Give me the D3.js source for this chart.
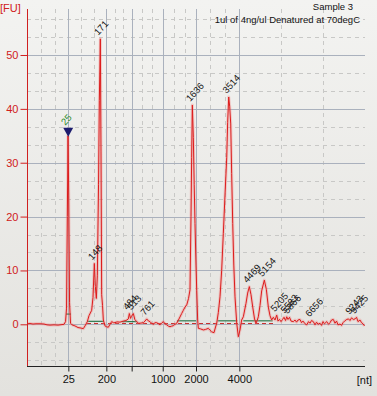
<!DOCTYPE html>
<html>
<head>
<meta charset="utf-8">
<script src="https://cdn.jsdelivr.net/npm/d3@7"></script>
<style>
  html, body { margin: 0; padding: 0; background: #ecebe8; }
  svg { display: block; }
</style>
</head>
<body>
<div id="outer"></div>
<script>
////////// Data (migration time in s, fluorescence in FU) //////////
const traceTime = [
  18.58, 18.95, 19.4, 19.85, 20.45, 21.05, 21.5, 21.95, 22.55, 23.15, 23.75, 24.05, 24.28, 24.43, 24.55, 24.65,
  24.76, 24.88, 25.03, 25.25, 25.7, 26.15, 26.6, 26.95, 27.2, 27.55, 27.8, 28.2, 28.4, 28.6, 28.75, 28.9,
  29.05, 29.23, 29.35, 29.5, 29.6, 29.7, 29.83, 29.95, 30.2, 30.43, 30.7, 30.95, 31.2, 31.48, 31.7, 32.0,
  32.45, 32.95, 33.35, 33.7, 33.85, 34.03, 34.18, 34.45, 34.67, 34.96, 35.23, 35.45, 35.95, 36.2, 36.46, 36.73,
  36.95, 37.18, 37.45, 37.7, 37.96, 38.23, 38.45, 38.68, 38.95, 39.2, 39.46, 39.73, 39.95, 40.18, 40.45, 40.7,
  40.96, 41.3, 41.7, 41.95, 42.2, 42.46, 42.73, 42.95, 43.1, 43.2, 43.3, 43.45, 43.58, 43.7, 43.85, 43.96,
  44.1, 44.2, 44.53, 44.95, 45.28, 45.7, 45.95, 46.2, 46.55, 46.78, 46.96, 47.2, 47.45, 47.7, 47.95, 48.2,
  48.46, 48.6, 48.76, 48.9, 49.06, 49.2, 49.36, 49.52, 49.7, 49.96, 50.2, 50.45, 50.7, 50.95, 51.35, 51.6,
  51.85, 52.1, 52.36, 52.63, 52.85, 53.05, 53.2, 53.45, 53.7, 54.1, 54.4, 54.7, 54.95, 55.2, 55.45, 55.7,
  55.96, 56.15, 56.38, 56.6, 56.83, 57.05, 57.28, 57.46, 57.65, 57.88, 58.1, 58.45, 58.7, 58.93, 59.15, 59.45,
  59.68, 59.9, 60.2, 60.46, 60.73, 60.95, 61.18, 61.45, 61.7, 61.93, 62.15, 62.45, 62.68, 62.9, 63.13, 63.46,
  63.73, 63.95, 64.18, 64.45, 64.7, 64.93, 65.15, 65.45, 65.68, 65.9, 66.13, 66.46, 66.73, 66.95, 67.18, 67.45,
  67.7, 67.93, 68.15, 68.45, 68.68, 68.9, 69.13
];
const traceFU = [
  0.1, 0.15, 0.05, 0.1, 0.1, 0.05, -0.1, -0.15, -0.1, -0.15, -0.05, 0.0, 0.5, 3, 20, 35.0,
  24, 4, 0.2, -0.1, -0.3, -0.6, -0.7, -0.8, -0.3, 0.5, 1.6, 2.6, 5, 11.3, 7, 4.8,
  9, 26, 41.5, 53.0, 32, 5.5, 3.5, 0.8, -0.3, -0.45, -0.55, 0, 0.5, 0.3, 0.3, 0.45,
  0.4, 0.6, 0.7, 1.0, 2.0, 1.1, 1.5, 2.0, 0.9, 0.5, 0.2, 0.2, 0.3, 0.6, 1.0, 0.6,
  0.5, 0.2, 0.0, 0.3, 0.3, 0.1, -0.1, 0.2, 0.5, 0.1, -0.1, -0.35, -0.45, -0.35, -0.25, 0.0,
  0.2, 1.0, 2.0, 2.6, 3.2, 3.6, 4.8, 6.4, 20, 31, 40.7, 34.7, 26, 18.7, 11, 6.3,
  0.8, -0.75, -0.85, -1.05, -0.95, -0.75, -1.1, -1.4, -1.55, -0.5, 0.2, 2.2, 5.1, 10, 16.9, 24,
  31, 37.5, 42.2, 40.5, 37.2, 28, 18.7, 11, 5.1, 0.2, -2.3, -1.05, 0.8, 1.4, 3.9, 5.8,
  7.0, 5.5, 3.2, 1.0, 0.2, 0.8, 1.4, 3.5, 6.2, 8.2, 6.5, 3.2, 1.6, 0.8, 1.3, 0.8,
  1.7, 0.6, 0.9, 0.5, 0.9, 1.3, 0.7, 1.4, 0.9, 1.3, 0.6, 0.5, 0.8, 0.4, 0.8, 0.9,
  0.3, 0.6, 0.1, -0.1, 0.5, 0.2, 0.7, 0.5, -0.1, 0.4, 0.0, 0.2, -0.2, 0.5, 0.1, 0.5,
  0.0, 0.3, 0.8, 0.9, 0.2, 0.6, -0.1, 0.05, -0.2, 0.3, 0.6, 0.9, 1.0, 0.7, 1.2, 0.9,
  1.0, 1.3, 0.5, 0.8, 0.3, 0.1, -0.3
];

// ladder (x axis) in nt, placed at their migration times
const ladderTime = [24.70, 30.40, 34.20, 38.86, 43.85, 50.35];
const ladderLabel = ['25', '200', '', '1000', '2000', '4000'];

const yTicks = [0, 10, 20, 30, 40, 50];

// called peaks
const peakLabel = ['148', '171', '484', '513', '761', '1636', '3514', '4469', '5154', '5205', '5583', '5866', '6656', '9243', '9425'];
const peakTime  = [28.6, 29.5, 33.85, 34.45, 36.46, 43.3, 48.76, 51.85, 54.1, 55.96, 57.46, 57.88, 61.18, 67.18, 67.93];
const peakFU    = [11.3, 53.0, 2.0, 2.0, 1.0, 40.7, 42.2, 7.0, 8.2, 1.7, 1.4, 1.3, 0.7, 1.2, 1.3];

// lower marker
const markerLabel = '25';
const markerTime = 24.68;
const markerFU = 35.0;

// integration baselines
const baseStart = [24.35, 27.5, 32.75, 41.0, 47.1, 50.95];
const baseEnd   = [25.1, 30.05, 35.0, 43.85, 50.05, 55.35];
const baseFU    = [1.9, 0.55, 0.5, 0.65, 0.65, 0.65];
const dashBaseStart = 27.5, dashBaseEnd = 55.4, dashBaseFU = 0.15;

const title1 = 'Sample 3';
const title2 = '1ul of 4ng/ul Denatured at 70degC';

////////// Layout //////////
const W = 377, H = 396;
const plotL = 27, plotR = 365, plotT = 9, plotB = 366;
const tDomain = [18.5, 69.2];
const fuDomain = [-7.74, 58.54];

const x = d3.scaleLinear().domain(tDomain).range([plotL, plotR]);
const y = d3.scaleLinear().domain(fuDomain).range([plotB, plotT]);

const svg = d3.select('#outer').append('svg')
  .attr('width', W).attr('height', H)
  .style('font-family', '"Liberation Sans", Arial, sans-serif');

const defs = svg.append('defs');
const grad = defs.append('linearGradient').attr('id', 'bg').attr('x1', 0).attr('x2', 0).attr('y1', 0).attr('y2', 1);
grad.append('stop').attr('offset', '0%').attr('stop-color', '#f3f3f1');
grad.append('stop').attr('offset', '100%').attr('stop-color', '#e3e2de');
defs.append('clipPath').attr('id', 'plotClip').append('rect')
  .attr('x', plotL).attr('y', plotT).attr('width', plotR - plotL).attr('height', plotB - plotT);

svg.append('rect').attr('width', W).attr('height', H).attr('fill', 'url(#bg)');

// grid
const grid = svg.append('g').attr('class', 'grid');
const minorY = d3.range(-2, 18).filter(k => k % 3 !== 0).map(k => k * 10 / 3);
grid.selectAll('line.my').data(minorY).join('line')
  .attr('x1', plotL).attr('x2', plotR)
  .attr('y1', d => Math.round(y(d)) + 0.5).attr('y2', d => Math.round(y(d)) + 0.5)
  .attr('stroke', '#c8c8c6').attr('stroke-dasharray', '4,4');

const bounds = [tDomain[0], ...ladderTime, tDomain[1]];
const minorX = [];
for (let i = 0; i < bounds.length - 1; i++) {
  const a = bounds[i], b = bounds[i + 1];
  minorX.push(a + (b - a) / 3, a + 2 * (b - a) / 3);
}
grid.selectAll('line.mx').data(minorX).join('line')
  .attr('y1', plotT).attr('y2', plotB)
  .attr('x1', d => Math.round(x(d)) + 0.5).attr('x2', d => Math.round(x(d)) + 0.5)
  .attr('stroke', '#c8c8c6').attr('stroke-dasharray', '4,4');

grid.selectAll('line.gy').data(yTicks).join('line')
  .attr('x1', plotL).attr('x2', plotR)
  .attr('y1', d => Math.round(y(d)) + 0.5).attr('y2', d => Math.round(y(d)) + 0.5)
  .attr('stroke', '#aab1bd');

grid.selectAll('line.gx').data(ladderTime).join('line')
  .attr('y1', plotT).attr('y2', plotB)
  .attr('x1', d => Math.round(x(d)) + 0.5).attr('x2', d => Math.round(x(d)) + 0.5)
  .attr('stroke', '#aab1bd');

// baselines
const plotG = svg.append('g').attr('clip-path', 'url(#plotClip)');
plotG.append('line')
  .attr('x1', x(dashBaseStart)).attr('x2', x(dashBaseEnd))
  .attr('y1', y(dashBaseFU)).attr('y2', y(dashBaseFU))
  .attr('stroke', '#c83030').attr('stroke-dasharray', '4,3');
plotG.selectAll('line.base').data(baseStart).join('line')
  .attr('x1', d => x(d)).attr('x2', (d, i) => x(baseEnd[i]))
  .attr('y1', (d, i) => y(baseFU[i])).attr('y2', (d, i) => y(baseFU[i]))
  .attr('stroke', '#2f7a50').attr('stroke-width', 1.2);

// trace: pale halo under a thin red line
const pts = traceTime.map((t, i) => [t, traceFU[i]]);
const line = d3.line().x(d => x(d[0])).y(d => y(d[1]));
plotG.append('path').attr('d', line(pts))
  .attr('fill', 'none').attr('stroke', '#f08080').attr('stroke-opacity', 0.35)
  .attr('stroke-width', 3).attr('stroke-linejoin', 'round');
plotG.append('path').attr('d', line(pts))
  .attr('fill', 'none').attr('stroke', '#dd1c1c').attr('stroke-width', 1)
  .attr('stroke-linejoin', 'round');

// peak labels
svg.selectAll('text.peak').data(peakLabel).join('text')
  .attr('transform', (d, i) => `translate(${x(peakTime[i]) - 2},${y(peakFU[i]) - 3}) rotate(-48)`)
  .attr('font-size', 9.5).attr('fill', '#111')
  .text(d => d);

// marker
const mx = x(markerTime), my = y(markerFU);
svg.append('path')
  .attr('d', `M${mx - 5},${my - 8} L${mx + 5},${my - 8} L${mx},${my + 1} Z`)
  .attr('fill', '#1c1c6e');
svg.append('text')
  .attr('transform', `translate(${mx - 3},${my - 10}) rotate(-48)`)
  .attr('font-size', 9.5).attr('fill', '#2a8a2a')
  .text(markerLabel);

// axes
const yAxis = svg.append('g').attr('transform', `translate(${plotL + 0.5},0)`)
  .call(d3.axisLeft(y).tickValues(yTicks).tickSize(7).tickPadding(2).tickFormat(d3.format('d')));
yAxis.select('.domain').attr('stroke', '#d02020').attr('d', `M0,${plotT}V${plotB}`);
yAxis.selectAll('.tick line').attr('stroke', '#d02020');
yAxis.selectAll('.tick text').attr('fill', '#d02020').attr('font-size', 11)
  .attr('font-family', '"Liberation Sans", Arial, sans-serif');

const xAxis = svg.append('g').attr('transform', `translate(0,${plotB + 0.5})`)
  .call(d3.axisBottom(x).tickValues(ladderTime).tickSize(5).tickPadding(4)
    .tickFormat((d, i) => ladderLabel[i]));
xAxis.select('.domain').attr('stroke', '#222').attr('d', `M${plotL},0H${plotR}`);
xAxis.selectAll('.tick line').attr('stroke', '#222');
xAxis.selectAll('.tick text').attr('fill', '#111').attr('font-size', 11)
  .attr('font-family', '"Liberation Sans", Arial, sans-serif');

svg.append('text').attr('x', 0).attr('y', 12).attr('font-size', 11).attr('fill', '#d02020').text('[FU]');
svg.append('text').attr('x', 372).attr('y', 384).attr('text-anchor', 'end')
  .attr('font-size', 11).attr('fill', '#111').text('[nt]');

// titles
svg.append('text').attr('x', 353).attr('y', 10).attr('text-anchor', 'end')
  .attr('font-size', 9.5).attr('fill', '#111').text(title1);
svg.append('text').attr('x', 360).attr('y', 23).attr('text-anchor', 'end')
  .attr('font-size', 9.5).attr('fill', '#111').text(title2);
</script>
</body>
</html>
